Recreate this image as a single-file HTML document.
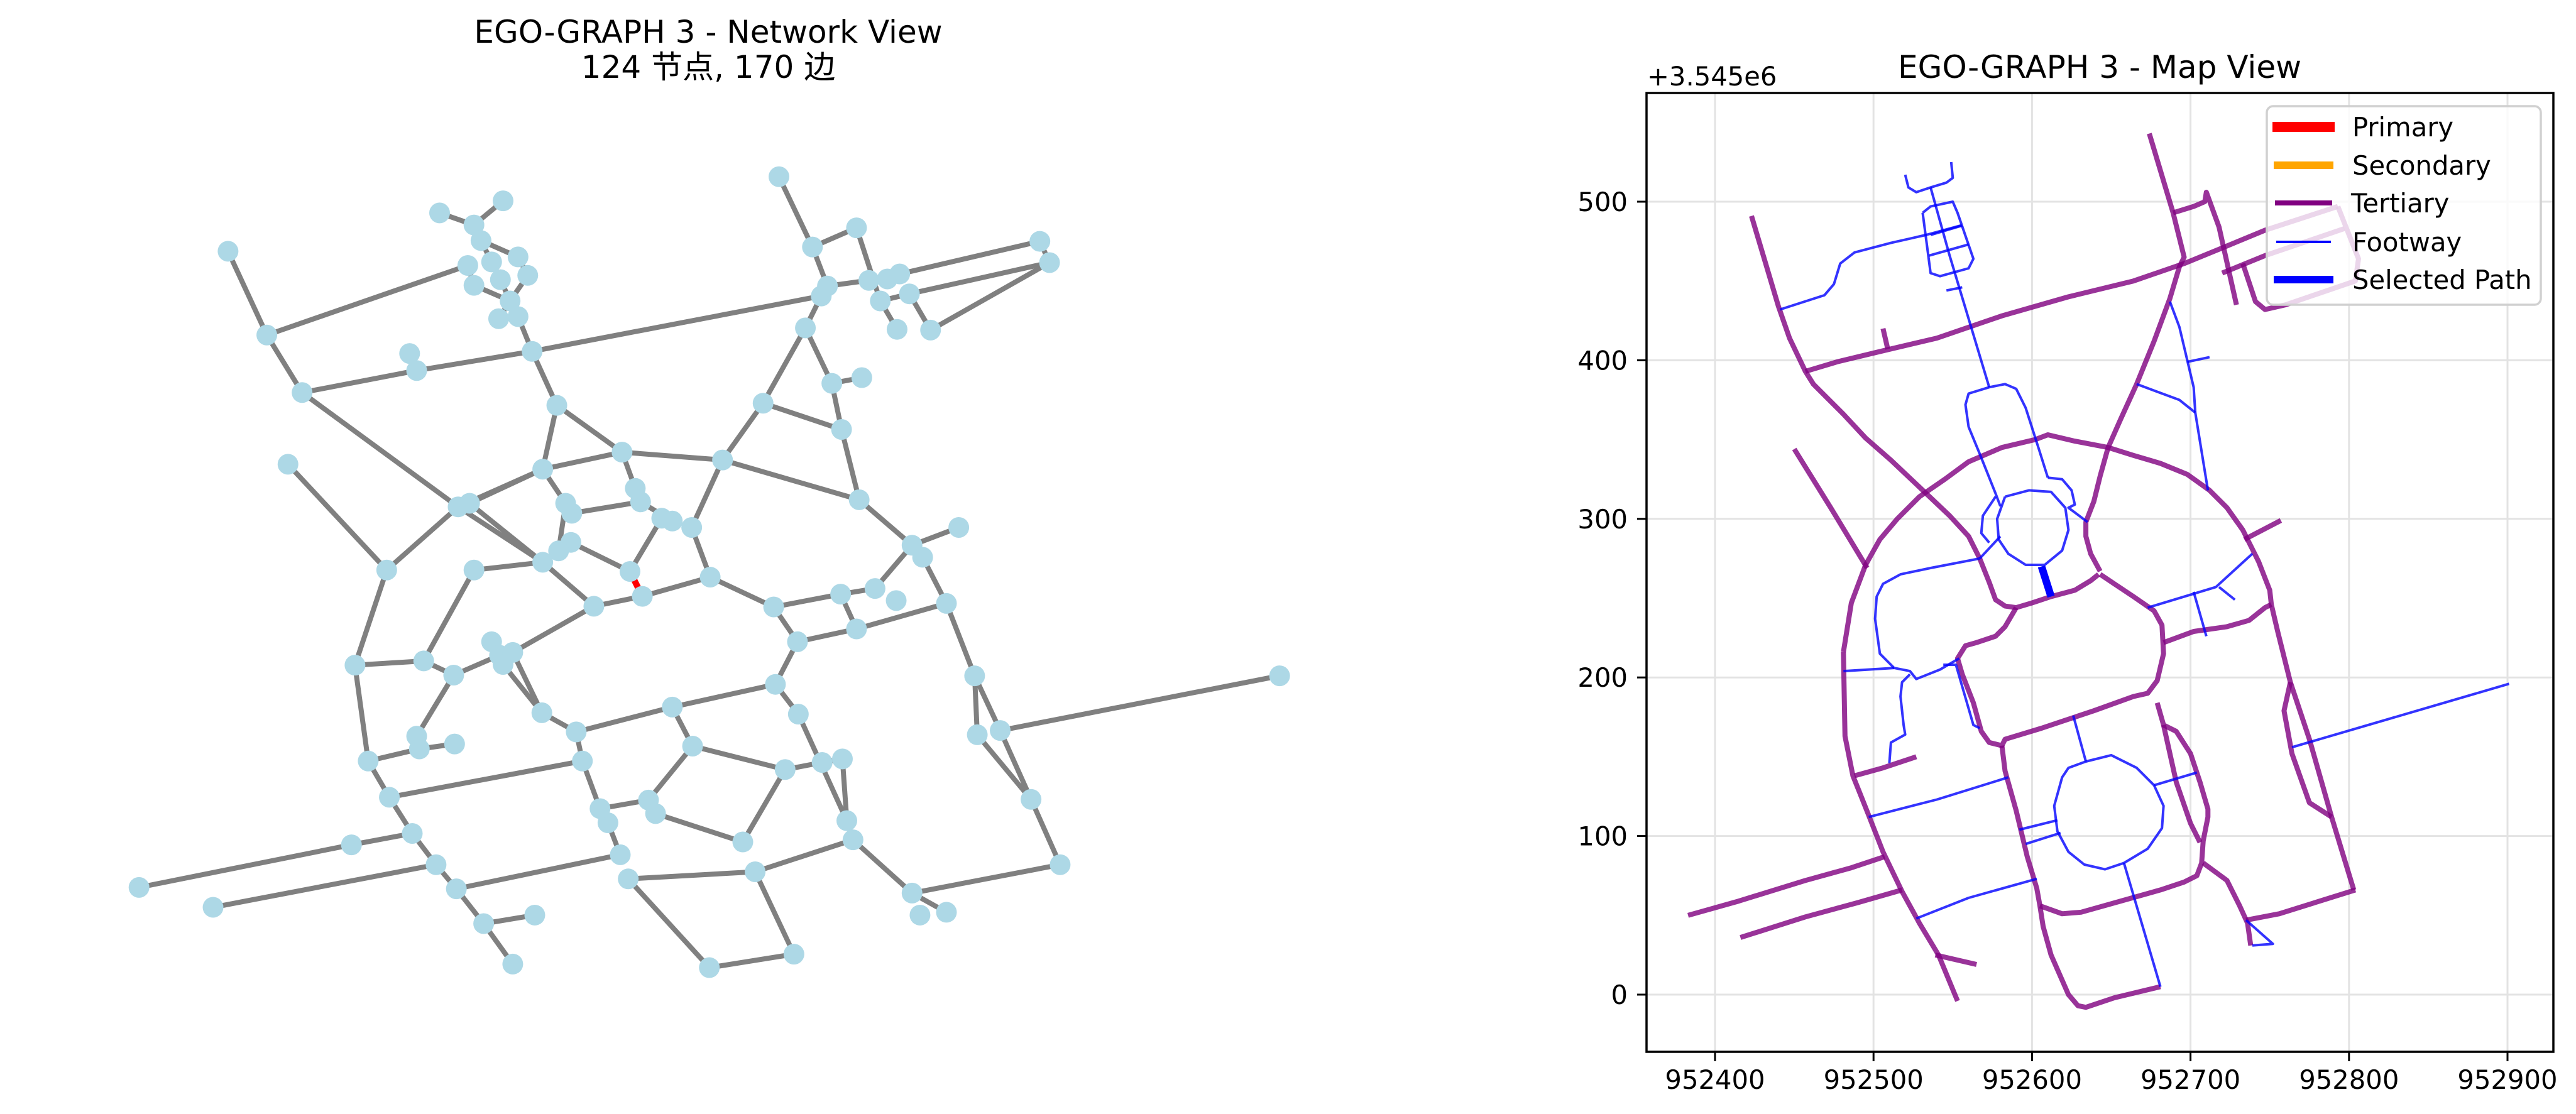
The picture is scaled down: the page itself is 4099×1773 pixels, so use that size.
<!DOCTYPE html>
<html><head><meta charset="utf-8"><title>EGO-GRAPH 3</title>
<style>
html,body{margin:0;padding:0;background:#fff;}
svg{display:block;font-family:"DejaVu Sans","Liberation Sans","Noto Sans CJK SC",sans-serif;}
</style></head>
<body>
<svg id="fig" xmlns="http://www.w3.org/2000/svg" width="4099" height="1773" viewBox="0 0 4099 1773">
  <rect x="0" y="0" width="4099" height="1773" fill="#fff"/>
  <g>
    <text x="1127" y="68" font-size="50" text-anchor="middle">EGO-GRAPH 3 - Network View</text>
    <text x="1127" y="124" font-size="50" text-anchor="middle">124 节点, 170 边</text>
    <g id="edges"></g>
    <g id="nodes"></g>
  </g>
  <g>
    <text x="3341" y="124" font-size="50" text-anchor="middle">EGO-GRAPH 3 - Map View</text>
    <text x="2621" y="136" font-size="41.7">+3.545e6</text>
    <defs><clipPath id="axclip"><rect x="2620" y="148" width="1443" height="1526"/></clipPath></defs>
    <g id="grid"></g>
    <g id="roads" clip-path="url(#axclip)"></g>
    <rect x="2620" y="148" width="1443" height="1526" fill="none" stroke="#000" stroke-width="3.5"/>
    <g id="ticks"></g>
    <g>
      <rect x="3607" y="169" width="436" height="316" rx="10" fill="#fff" fill-opacity="0.8" stroke="#d0d0d0" stroke-width="3.5"/>
      <g><line x1="3616" y1="202" x2="3715" y2="202" stroke="#ff0000" stroke-width="16"/><text x="3743" y="217" font-size="41.7">Primary</text></g>
      <g><line x1="3618" y1="263" x2="3713" y2="263" stroke="#ffa500" stroke-width="12"/><text x="3743" y="278" font-size="41.7">Secondary</text></g>
      <g><line x1="3620" y1="323" x2="3711" y2="323" stroke="#800080" stroke-width="8"/><text x="3741" y="338" font-size="41.7">Tertiary</text></g>
      <g><line x1="3622" y1="385" x2="3709" y2="385" stroke="#0000ff" stroke-width="4"/><text x="3743" y="400" font-size="41.7">Footway</text></g>
      <g><line x1="3618" y1="445" x2="3713" y2="445" stroke="#0000ff" stroke-width="12"/><text x="3743" y="460" font-size="41.7">Selected Path</text></g>
    </g>
  </g>
</svg>
<script>
// ---------- Network data (layout coordinates) ----------
const nodeX = [258,302,342,464,472,498,570,537,545,587,557,530,598,567,537,578,565,587,603,631,615,705,819,865,954,943,977,913,931,938,921,883,971,985,1006,1020,998,1031,1017,1055,1179,1190,974,1034,1087,1046,1073,1105,1108,1134,1451,1169,1202,1034,1043,1073,967,960,955,932,905,879,904,877,953,992,1016,971,805,728,714,784,762,750,726,720,641,648,647,633,615,537,673,519,532,326,438,402,480,514,557,566,570,581,614,653,762,785,890,842,856,804,900,712,703,689,680,735,743,660,441,417,472,475,515,467,398,157,241,494,517,548,606,581];
const nodeY = [353,471,552,497,521,299,282,316,338,361,368,373,387,393,401,423,448,445,494,570,660,636,647,567,604,539,531,461,416,402,347,248,320,394,392,385,423,413,463,464,339,369,703,767,742,784,849,951,1034,1028,951,1125,1217,1257,1288,1284,1182,1155,1068,1073,1005,963,903,854,836,828,845,885,812,839,804,742,733,729,706,687,708,722,763,775,791,802,853,713,708,653,802,936,930,950,903,922,935,918,1003,1030,995,1050,1083,1185,1227,1362,1343,1237,1203,1158,1138,1126,1145,1071,1122,1071,1036,1054,1047,1173,1189,1249,1277,1217,1251,1300,1288,1357];
const edgeFrom = [1,2,2,3,5,19,29,30,34,35,36,41,42,37,38,33,31,31,33,37,38,29,28,26,26,28,24,24,25,23,23,23,72,22,21,22,76,75,74,20,19,20,21,77,79,78,82,3,84,85,81,83,70,69,64,65,66,44,44,44,46,47,48,48,49,50,52,50,53,54,54,57,58,61,62,63,63,68,65,60,60,99,99,98,108,109,105,104,104,102,103,101,62,97,97,96,95,94,91,92,90,89,88,87,87,89,90,112,114,112,112,111,111,116,117,116,120,120,121,122,122,110,93,6,7,8,9,9,10,11,13,14,16,16,18,15,61,107,106,85,12,4];
const edgeTo   = [2,12,3,5,19,29,30,34,35,36,41,42,40,38,42,31,32,30,37,39,40,28,26,27,25,24,25,23,43,22,43,72,69,21,84,76,75,73,71,22,20,21,77,80,71,75,81,84,81,81,83,70,69,64,65,66,44,43,45,46,47,48,49,50,52,52,53,51,54,56,57,58,59,62,63,64,68,47,68,59,99,98,100,108,107,100,121,101,102,103,101,57,97,96,98,95,94,83,92,90,89,88,87,86,84,82,113,114,115,88,111,110,116,117,118,120,119,121,122,123,124,96,95,8,8,9,10,11,13,14,16,16,17,18,19,16,58,110,105,21,15,5];
const redFrom = [70], redTo = [71];

const fx = v => 1.4026 * v + 1;
const fy = v => 1.13 * v + 1;
const NS = 'http://www.w3.org/2000/svg';
const eg = document.getElementById('edges');
for (let i = 0; i < edgeFrom.length; i++) {
  const a = edgeFrom[i] - 1, b = edgeTo[i] - 1;
  const l = document.createElementNS(NS, 'line');
  
  
  l.setAttribute('x1', fx(nodeX[a])); l.setAttribute('y1', fy(nodeY[a]));
  l.setAttribute('x2', fx(nodeX[b])); l.setAttribute('y2', fy(nodeY[b]));
  l.setAttribute('stroke', '#808080'); l.setAttribute('stroke-width', '8');
  eg.appendChild(l);
}
for (let i = 0; i < redFrom.length; i++) {
  const a = redFrom[i] - 1, b = redTo[i] - 1;
  const l = document.createElementNS(NS, 'line');
  
  
  l.setAttribute('x1', fx(nodeX[a])); l.setAttribute('y1', fy(nodeY[a]));
  l.setAttribute('x2', fx(nodeX[b])); l.setAttribute('y2', fy(nodeY[b]));
  l.setAttribute('stroke', '#ff0000'); l.setAttribute('stroke-width', '10');
  eg.appendChild(l);
}
const ng = document.getElementById('nodes');
for (let i = 0; i < nodeX.length; i++) {
  const c = document.createElementNS(NS, 'circle');
  
  
  c.setAttribute('cx', fx(nodeX[i])); c.setAttribute('cy', fy(nodeY[i]));
  c.setAttribute('r', '16.5'); c.setAttribute('fill', '#add8e6');
  ng.appendChild(c);
}

// ---------- Map data (easting - 952000, northing - 3545000) ----------
const xTicks = [400,500,600,700,800,900];
const xTickLabels = ['952400','952500','952600','952700','952800','952900'];
const yTicks = [0,100,200,300,400,500];
const yTickLabels = ['0','100','200','300','400','500'];

const tertiary = [
 [[423,491],[440,434],[447,414],[457,393],[462,385],[481,366],[495,351],[511,337],[529,320],[548,302],[560,289],[567,275],[573,260],[577,249],[583,245],[590,244],[600,247],[612,251],[627,255],[637,261],[642,265]],
 [[481,216],[486,247],[495,271],[504,287],[515,300],[529,314],[545,325],[560,336],[581,345],[602,350],[610,353],[627,349],[648,345],[664,340],[681,335],[698,328],[712,318],[723,307],[733,293],[743,273],[750,255],[751,246],[755,229],[763,197],[775,161],[789,112],[803,66]],
 [[481,216],[482,163],[487,138],[491,128],[497,113],[506,90],[518,65],[529,45],[541,25],[553,-4]],
 [[674,543],[689,493],[696,465],[693,459],[687,439],[677,412],[666,385],[656,363],[648,345],[643,327],[639,311],[634,298],[634,289],[637,278],[643,267]],
 [[457,393],[477,399],[506,406],[540,414],[581,428],[623,440],[664,450],[696,461],[718,470],[747,482],[793,497]],
 [[689,493],[702,497],[709,500],[710,506],[718,484],[729,435]],
 [[720,455],[747,466],[797,483]],
 [[733,461],[741,437],[747,432],[760,435],[804,450],[806,464],[793,497]],
 [[506,420],[509,407]],
 [[450,344],[473,307],[496,269]],
 [[590,244],[583,232],[577,226],[565,222],[558,220],[553,212],[556,202],[563,184],[568,166],[573,159],[581,157],[583,161],[606,168],[639,179],[664,188],[673,190],[679,198],[683,215],[682,233],[677,242],[664,251],[652,259],[643,265]],
 [[683,222],[702,229],[723,232],[737,236],[747,244],[751,246]],
 [[734,287],[757,299]],
 [[581,157],[583,141],[590,116],[597,87],[603,67],[605,56],[607,43],[612,25],[623,0],[629,-7],[634,-8],[652,-2],[681,5]],
 [[605,56],[619,51],[631,52],[656,59],[681,66],[696,71],[704,75],[707,83],[708,97],[711,112],[711,117],[706,134],[700,152],[691,166],[683,170],[679,184]],
 [[683,170],[691,134],[700,108],[706,96]],
 [[708,83],[723,72],[731,56],[736,45],[738,31]],
 [[735,47],[756,51],[804,66]],
 [[763,197],[759,179],[764,152],[775,121],[789,112]],
 [[383,50],[415,59],[457,72],[486,80],[507,87]],
 [[416,36],[457,49],[490,58],[518,66]],
 [[488,138],[506,143],[527,150]],
 [[539,25],[565,19]]
];
const footway = [
 [[441,432],[469,441],[475,448],[479,461],[488,468],[511,474],[533,479],[555,485]],
 [[536,509],[548,466],[573,383]],
 [[520,517],[522,509],[527,506],[536,509],[546,512],[550,515],[549,525]],
 [[531,493],[536,497],[550,500],[553,493],[563,464],[560,458],[542,453],[536,455],[531,493]],
 [[535,466],[560,473]],
 [[536,479],[556,485]],
 [[546,444],[556,446]],
 [[573,383],[560,379],[558,372],[560,358],[567,341],[577,316],[580,308]],
 [[573,383],[583,385],[590,382],[596,370],[604,345],[610,326]],
 [[577,314],[569,302],[568,291],[573,285]],
 [[610,326],[619,325],[625,318],[627,309],[623,307],[635,298]],
 [[583,314],[598,318],[612,317],[621,307],[623,293],[619,280],[608,271],[596,271],[585,278],[579,287],[578,300],[583,314]],
 [[580,289],[567,275]],
 [[567,275],[536,269],[517,265],[506,259],[502,251],[501,237],[504,215],[513,206],[523,204],[527,199],[542,205],[554,212]],
 [[481,204],[513,206]],
 [[523,202],[518,197],[517,188],[519,170],[520,164],[511,159],[510,146]],
 [[544,208],[552,208],[563,170],[567,168]],
 [[497,112],[540,123],[585,137]],
 [[527,48],[560,61],[603,73]],
 [[634,147],[650,151],[666,143],[677,132],[683,119],[682,105],[673,92],[658,83],[646,79],[633,82],[623,90],[616,103],[614,119],[619,137],[623,143],[634,147]],
 [[626,176],[634,147]],
 [[677,132],[704,140]],
 [[592,104],[616,110]],
 [[596,95],[618,102]],
 [[658,83],[681,5]],
 [[764,156],[901,196]],
 [[687,437],[693,421],[702,383],[703,367],[711,318]],
 [[698,399],[712,402]],
 [[666,385],[693,375],[703,367]],
 [[673,244],[716,257],[739,278]],
 [[702,254],[710,226]],
 [[718,257],[728,249]],
 [[735,47],[752,32],[739,31]]
];
const selectedPath = [[[606,270],[612,251]]];

const X = e => 2729 + (e - 400) * 2.522;
const Y = n => 1583 - n * 2.524;

const grid = document.getElementById('grid');
const ticks = document.getElementById('ticks');
xTicks.forEach((t, i) => {
  const g = document.createElementNS(NS, 'line');
  
  
  g.setAttribute('x1', X(t)); g.setAttribute('x2', X(t)); g.setAttribute('y1', 148); g.setAttribute('y2', 1674);
  g.setAttribute('stroke', '#e3e3e3'); g.setAttribute('stroke-width', '3');
  grid.appendChild(g);
  const tk = document.createElementNS(NS, 'line');
  
  
  tk.setAttribute('x1', X(t)); tk.setAttribute('x2', X(t)); tk.setAttribute('y1', 1674); tk.setAttribute('y2', 1689);
  tk.setAttribute('stroke', '#000'); tk.setAttribute('stroke-width', '3');
  ticks.appendChild(tk);
  const tx = document.createElementNS(NS, 'text');
  
  
  tx.setAttribute('x', X(t)); tx.setAttribute('y', 1733); tx.setAttribute('font-size', '41.7'); tx.setAttribute('text-anchor', 'middle');
  tx.textContent = xTickLabels[i];
  ticks.appendChild(tx);
});
yTicks.forEach((t, i) => {
  const g = document.createElementNS(NS, 'line');
  
  
  g.setAttribute('x1', 2620); g.setAttribute('x2', 4063); g.setAttribute('y1', Y(t)); g.setAttribute('y2', Y(t));
  g.setAttribute('stroke', '#e3e3e3'); g.setAttribute('stroke-width', '3');
  grid.appendChild(g);
  const tk = document.createElementNS(NS, 'line');
  
  
  tk.setAttribute('x1', 2605); tk.setAttribute('x2', 2620); tk.setAttribute('y1', Y(t)); tk.setAttribute('y2', Y(t));
  tk.setAttribute('stroke', '#000'); tk.setAttribute('stroke-width', '3');
  ticks.appendChild(tk);
  const tx = document.createElementNS(NS, 'text');
  
  
  tx.setAttribute('x', 2590); tx.setAttribute('y', Y(t) + 15); tx.setAttribute('font-size', '41.7'); tx.setAttribute('text-anchor', 'end');
  tx.textContent = yTickLabels[i];
  ticks.appendChild(tx);
});

const roads = document.getElementById('roads');
function drawSet(set, name, color, width, opacity) {
  set.forEach(line => {
    const p = document.createElementNS(NS, 'polyline');
    
    
    p.setAttribute('points', line.map(pt => X(pt[0]).toFixed(1) + ',' + Y(pt[1]).toFixed(1)).join(' '));
    p.setAttribute('fill', 'none'); p.setAttribute('stroke', color);
    p.setAttribute('stroke-width', width); p.setAttribute('stroke-opacity', opacity);
    p.setAttribute('stroke-linejoin', 'round'); p.setAttribute('stroke-linecap', 'butt');
    roads.appendChild(p);
  });
}
drawSet(tertiary, 'tertiary-road', '#800080', 8, 0.8);
drawSet(footway, 'footway', '#0000ff', 4, 0.8);
drawSet(selectedPath, 'selected-path', '#0000ff', 12, 1);
</script>
</body></html>
